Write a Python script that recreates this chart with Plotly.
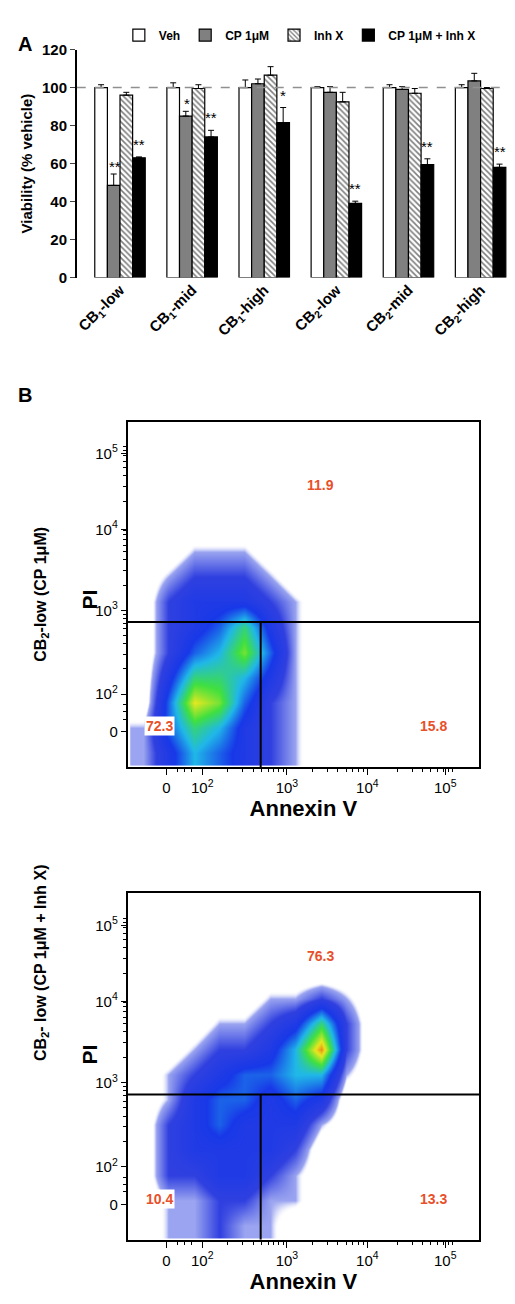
import plotly.graph_objects as go
import numpy as np

# ---- panel A data ----
cell_lines = ["CB<sub>1</sub>-low", "CB<sub>1</sub>-mid", "CB<sub>1</sub>-high",
              "CB<sub>2</sub>-low", "CB<sub>2</sub>-mid", "CB<sub>2</sub>-high"]
treatments = ["Veh", "CP 1μM", "Inh X", "CP 1μM + Inh X"]
veh = [100, 100, 100, 100, 100, 100]
veh_err = [1.5, 2.5, 4, 0.5, 1.5, 1.5]
cp = [48.5, 85, 102, 97.5, 99, 103.5]
cp_err = [6, 2.5, 2.5, 3, 1.5, 4]
inh = [96, 99.5, 106.5, 92.5, 97, 99.5]
inh_err = [1.5, 2, 4.5, 5, 2.5, 0.5]
combo = [63, 74, 81.5, 39, 59.5, 58]
combo_err = [0.5, 3.5, 8, 1.2, 3, 1.7]
cp_stars = ["**", "*", "", "", "", ""]
combo_stars = ["**", "**", "*", "**", "**", "**"]

# ---- panel B data: binned event density, display units (decades) ----
bin_x = [1.3, 1.6, 1.9, 2.2, 2.5, 2.8, 3.1, 3.4, 3.7, 4.0]
bin_y = [1.3, 1.6, 1.9, 2.2, 2.5, 2.8, 3.1, 3.4, 3.7, 4.0, 4.3, 4.6]
dens_cp = [
    [1, 3, 5, 4, 3, 2, 1, 0, 0, 0],
    [1, 4, 6, 5, 3, 2, 1, 0, 0, 0],
    [0, 4, 8, 7, 4, 2, 1, 0, 0, 0],
    [0, 3, 6, 6, 5, 3, 1, 0, 0, 0],
    [0, 2, 4, 5, 7, 4, 1, 0, 0, 0],
    [0, 2, 3, 4, 6, 3, 1, 0, 0, 0],
    [0, 2, 3, 3, 3, 2, 1, 0, 0, 0],
    [0, 1, 2, 2, 2, 1, 0, 0, 0, 0],
    [0, 0, 1, 1, 1, 0, 0, 0, 0, 0],
    [0, 0, 0, 0, 0, 0, 0, 0, 0, 0],
    [0, 0, 0, 0, 0, 0, 0, 0, 0, 0],
    [0, 0, 0, 0, 0, 0, 0, 0, 0, 0],
]
dens_combo = [
    [0, 1, 1, 2, 1, 1, 0, 0, 0, 0],
    [0, 1, 1, 2, 2, 1, 1, 0, 0, 0],
    [0, 2, 2, 3, 3, 2, 1, 0, 0, 0],
    [0, 2, 3, 3, 3, 3, 2, 0, 0, 0],
    [0, 2, 3, 4, 3, 3, 3, 1, 0, 0],
    [0, 1, 3, 4, 4, 3, 4, 3, 0, 0],
    [0, 1, 2, 3, 4, 4, 5, 5, 1, 0],
    [0, 0, 1, 2, 2, 3, 5, 9, 2, 0],
    [0, 0, 0, 1, 1, 2, 3, 6, 2, 0],
    [0, 0, 0, 0, 0, 1, 1, 2, 1, 0],
    [0, 0, 0, 0, 0, 0, 0, 0, 0, 0],
    [0, 0, 0, 0, 0, 0, 0, 0, 0, 0],
]
quad_cp = ["11.9", "72.3", "15.8"]
quad_combo = ["76.3", "10.4", "13.3"]
tick_text = ["0", "10<sup>2</sup>", "10<sup>3</sup>", "10<sup>4</sup>", "10<sup>5</sup>"]
x_ticks = [1.576, 2, 3, 3.95, 4.87]
y_ticks = [1.553, 2, 3, 3.965, 4.87]
gate_x, gate_y = 2.69, 2.86

FONT = "Liberation Sans"
W, H = 515, 1304
def py(p):
    return 1 - p / H

fig = go.Figure()

# ---- panel A ----
bw = 0.175
series = [(veh, veh_err, "white", ""), (cp, cp_err, "#808080", ""),
          (inh, inh_err, "white", "\\"), (combo, combo_err, "black", "")]
for j, (vals, errs, col, pat) in enumerate(series):
    xs = [i + (j - 1.5) * bw for i in range(len(vals))]
    fig.add_trace(go.Bar(
        x=xs, y=vals, width=bw, name="<b>%s</b>" % treatments[j],
        marker=dict(color=col, line=dict(color="black", width=1.2),
                    pattern=dict(shape=pat, fgcolor="black", size=4, solidity=0.4)),
        error_y=dict(type="data", array=errs, symmetric=False, arrayminus=[0] * 6,
                     color="black", thickness=1, width=3),
        xaxis="x", yaxis="y"))
for i in range(6):
    if cp_stars[i]:
        fig.add_annotation(x=i - 0.5 * bw, y=cp[i] + cp_err[i], text=cp_stars[i],
                           showarrow=False, yanchor="bottom", yshift=-3, xshift=1,
                           font=dict(size=15, family=FONT, color="black"), xref="x", yref="y")
    fig.add_annotation(x=i + 1.5 * bw, y=combo[i] + combo_err[i], text=combo_stars[i],
                       showarrow=False, yanchor="bottom", yshift=2, xshift=0,
                       font=dict(size=15, family=FONT, color="black"), xref="x", yref="y")
fig.add_shape(type="line", xref="x", yref="y", x0=-0.6, x1=5.45, y0=100, y1=100,
              line=dict(color="#909090", width=1.5, dash="dash"))

# ---- panel B ----
cscale = [[0, "rgba(255,255,255,0)"], [0.07, "rgba(255,255,255,0)"], [0.1, "#9aa4f0"],
          [0.2, "#3040e0"], [0.35, "#1838e8"], [0.5, "#20b8e8"], [0.65, "#40e040"],
          [0.8, "#e8e820"], [1, "#e83010"]]
for k, (dens, quads, ax) in enumerate([(dens_cp, quad_cp, "2"), (dens_combo, quad_combo, "3")]):
    fig.add_trace(go.Heatmap(x=bin_x, y=bin_y, z=dens, zmin=0, zmax=10, zsmooth="best",
                             colorscale=cscale, showscale=False, hoverinfo="skip",
                             xaxis="x" + ax, yaxis="y" + ax))
    xr, yr = "x" + ax, "y" + ax
    fig.add_shape(type="line", xref=xr, yref=yr, x0=1.118, x1=5.27, y0=gate_y, y1=gate_y,
                  line=dict(color="black", width=2))
    fig.add_shape(type="line", xref=xr, yref=yr, x0=gate_x, x1=gate_x, y0=1.13, y1=gate_y,
                  line=dict(color="black", width=2))
    qf = dict(size=14, family=FONT, color="#e8502a")
    fig.add_annotation(x=3.4, y=4.5, text="<b>%s</b>" % quads[0], showarrow=False, font=qf, xref=xr, yref=yr)
    fig.add_annotation(x=1.5, y=1.62, text="<b>%s</b>" % quads[1], showarrow=False, font=qf, xref=xr, yref=yr,
                       bgcolor="white")
    fig.add_annotation(x=4.73, y=1.62, text="<b>%s</b>" % quads[2], showarrow=False, font=qf, xref=xr, yref=yr)

minor = [1.576 + (2 - 1.576) * v for v in (0.3, 0.5, 0.7)]
for d in range(2, 5):
    minor += [d + np.log10(m) for m in range(2, 10)]

ax_common = dict(showline=True, linecolor="black", linewidth=1.5, mirror=True, showgrid=False,
                 zeroline=False, ticks="outside", ticklen=6, tickcolor="black",
                 tickfont=dict(size=15, family=FONT, color="black"),
                 minor=dict(tickvals=minor, ticks="outside", ticklen=3, tickcolor="black"))
layout_axes = {}
doms = {"2": (py(760), py(410)), "3": (py(1239), py(888))}
for ax, dom in doms.items():
    layout_axes["xaxis" + ax] = dict(ax_common, domain=[118 / W, 471 / W], range=[1.118, 5.27],
                                     tickvals=x_ticks, ticktext=tick_text, anchor="y" + ax,
                                     title=dict(text="<b>Annexin V</b>", standoff=0,
                                                font=dict(size=22, family=FONT, color="black")))
    layout_axes["yaxis" + ax] = dict(ax_common, domain=list(dom), range=[1.13, 5.25],
                                     tickvals=y_ticks, ticktext=tick_text, anchor="x" + ax,
                                     ticklen=5)

fig.add_annotation(x=20 / W, y=py(585), xref="paper", yref="paper", textangle=-90, showarrow=False,
                   text="<b>CB<sub>2</sub>-low (CP 1μM)</b>", font=dict(size=16, family=FONT, color="black"))
fig.add_annotation(x=66 / W, y=py(590), xref="paper", yref="paper", textangle=-90, showarrow=False,
                   text="<b>PI</b>", font=dict(size=21, family=FONT, color="black"))
fig.add_annotation(x=20 / W, y=py(1060), xref="paper", yref="paper", textangle=-90, showarrow=False,
                   text="<b>CB<sub>2</sub>- low (CP 1μM + Inh X)</b>", font=dict(size=16, family=FONT, color="black"))
fig.add_annotation(x=66 / W, y=py(1063), xref="paper", yref="paper", textangle=-90, showarrow=False,
                   text="<b>PI</b>", font=dict(size=21, family=FONT, color="black"))
fig.add_annotation(x=6 / W, y=py(14), xref="paper", yref="paper", showarrow=False, xanchor="left",
                   text="<b>A</b>", font=dict(size=20, family=FONT, color="black"))
fig.add_annotation(x=6 / W, y=py(370), xref="paper", yref="paper", showarrow=False, xanchor="left",
                   text="<b>B</b>", font=dict(size=20, family=FONT, color="black"))

fig.update_layout(
    width=W, height=H, margin=dict(l=0, r=0, t=0, b=0),
    plot_bgcolor="white", paper_bgcolor="white", barmode="overlay",
    font=dict(family=FONT, color="black"),
    legend=dict(orientation="h", x=0.565, y=py(33), xanchor="center", yanchor="bottom",
                font=dict(size=12, family=FONT, color="black"), itemwidth=30,
                tracegroupgap=0, bgcolor="rgba(0,0,0,0)"),
    xaxis=dict(domain=[67 / W, 505 / W], range=[-0.6, 5.45], tickvals=list(range(6)),
               ticktext=["<b>%s</b>" % c for c in cell_lines], tickangle=-45, showline=False,
               showgrid=False, zeroline=False, ticks="", anchor="y",
               tickfont=dict(size=15, family=FONT, color="black")),
    yaxis=dict(domain=[py(264), py(33)], range=[0, 120], dtick=20, showline=True,
               linecolor="black", linewidth=1.5, ticks="outside", ticklen=5, showgrid=False,
               zeroline=False, anchor="x", tickfont=dict(size=15, family=FONT, color="black"),
               tickprefix="<b>", ticksuffix="</b>",
               title=dict(text="<b>Viability (% vehicle)</b>", standoff=6,
                          font=dict(size=15, family=FONT, color="black"))),
    **layout_axes,
)
fig.write_html("out.html")
